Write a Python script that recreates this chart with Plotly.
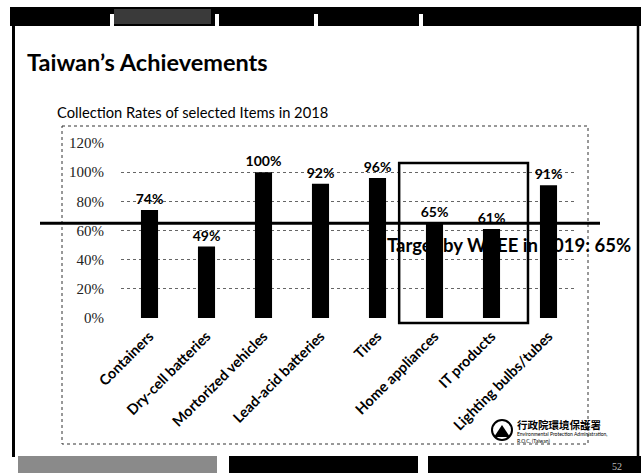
import plotly.graph_objects as go

categories = ["Containers", "Dry-cell batteries", "Mortorized vehicles", "Lead-acid batteries",
              "Tires", "Home appliances", "IT products", "Lighting bulbs/tubes"]
rates = [74, 49, 100, 92, 96, 65, 61, 91]
target = 65
y_ticks = [0, 20, 40, 60, 80, 100, 120]
y_tick_labels = ["0%", "20%", "40%", "60%", "80%", "100%", "120%"]

W_PX, H_PX = 641, 473
L, R, T, B = 121, 577, 143, 318
PW, PH = R - L, B - T


def px(x):
    return (x - L) / PW


def py(y):
    return (B - y) / PH


fig = go.Figure()
fig.add_trace(go.Bar(
    x=categories, y=rates,
    marker=dict(color="#000000", line=dict(width=0)),
    text=[f"{v}%" for v in rates], textposition="outside", constraintext="none",
    textfont=dict(family="Lato", size=14, color="#000000", weight="bold"),
    cliponaxis=False, hoverinfo="skip",
))

shapes = []
# top banner
shapes.append(dict(type="rect", xref="paper", yref="paper", x0=px(10), x1=px(641), y0=py(7), y1=py(26),
                   fillcolor="#000000", line=dict(width=0), layer="below"))
shapes.append(dict(type="rect", xref="paper", yref="paper", x0=px(114), x1=px(211), y0=py(9), y1=py(24),
                   fillcolor="#3a3a3a", line=dict(width=0), layer="below"))
for gx in [110, 215, 314, 419]:
    shapes.append(dict(type="rect", xref="paper", yref="paper", x0=px(gx), x1=px(gx + 4), y0=py(14), y1=py(26),
                       fillcolor="#ffffff", line=dict(width=0), layer="below"))
# slide borders
shapes.append(dict(type="line", xref="paper", yref="paper", x0=px(13.5), x1=px(13.5), y0=py(26), y1=py(457),
                   line=dict(color="#000000", width=3)))
shapes.append(dict(type="line", xref="paper", yref="paper", x0=px(638), x1=px(638), y0=py(26), y1=py(457),
                   line=dict(color="#000000", width=2.5)))
# chart frame
shapes.append(dict(type="rect", xref="paper", yref="paper", x0=px(62), x1=px(588), y0=py(126), y1=py(444),
                   line=dict(color="#333333", width=1, dash="dot"), layer="below"))
# bottom bars
shapes.append(dict(type="rect", xref="paper", yref="paper", x0=px(18), x1=px(217), y0=py(456), y1=py(473),
                   fillcolor="#8a8a8a", line=dict(width=0)))
shapes.append(dict(type="rect", xref="paper", yref="paper", x0=px(229), x1=px(418), y0=py(456), y1=py(473),
                   fillcolor="#000000", line=dict(width=0)))
shapes.append(dict(type="rect", xref="paper", yref="paper", x0=px(428), x1=px(641), y0=py(456), y1=py(473),
                   fillcolor="#000000", line=dict(width=0)))
# target line
shapes.append(dict(type="line", xref="paper", yref="y", x0=px(40), x1=px(600), y0=target, y1=target,
                   line=dict(color="#000000", width=3)))
# highlight box around Home appliances and IT products
i0 = categories.index("Home appliances")
i1 = categories.index("IT products")
shapes.append(dict(type="rect", xref="x", yref="paper", x0=i0 - 0.62, x1=i1 + 0.64,
                   y0=-3.4 / 120, y1=106.3 / 120, line=dict(color="#000000", width=2.5)))
# emblem
shapes.append(dict(type="circle", xref="paper", yref="paper", x0=px(492), x1=px(512), y0=py(440), y1=py(420),
                   line=dict(color="#000000", width=2), fillcolor="#ffffff"))
shapes.append(dict(type="path", xref="paper", yref="paper",
                   path=f"M {px(494)} {py(437)} L {px(502)} {py(425)} L {px(510)} {py(437)} Z",
                   fillcolor="#000000", line=dict(width=0)))

annotations = [
    dict(text="Taiwan’s Achievements", x=px(25), y=py(62), xref="paper", yref="paper",
         xanchor="left", yanchor="middle", showarrow=False,
         font=dict(family="Lato", size=23.5, color="#000000", weight="bold")),
    dict(text="Collection Rates of selected Items in 2018", x=px(55), y=py(112), xref="paper", yref="paper",
         xanchor="left", yanchor="middle", showarrow=False,
         font=dict(family="Lato", size=14.7, color="#000000")),
    dict(text=f"Target by WEEE in 2019: {target}%", x=px(385), y=py(245), xref="paper", yref="paper",
         xanchor="left", yanchor="middle", showarrow=False,
         font=dict(family="Lato", size=18.5, color="#000000", weight="bold")),
    dict(text="行政院環境保護署", x=px(515), y=py(424), xref="paper", yref="paper",
         xanchor="left", yanchor="middle", showarrow=False,
         font=dict(family="Noto Sans CJK TC", size=10.5, color="#000000", weight="bold")),
    dict(text="Environmental Protection Administration,<br>R.O.C. (Taiwan)", x=px(515), y=py(437),
         xref="paper", yref="paper", xanchor="left", yanchor="middle", showarrow=False, align="left",
         font=dict(family="Lato", size=5, color="#000000")),
    dict(text="52", x=px(617), y=py(466), xref="paper", yref="paper",
         xanchor="center", yanchor="middle", showarrow=False,
         font=dict(family="Liberation Serif", size=10, color="#bbbbbb")),
]

fig.update_layout(
    width=W_PX, height=H_PX,
    margin=dict(l=L, r=W_PX - R, t=T, b=H_PX - B, autoexpand=False),
    paper_bgcolor="#ffffff", plot_bgcolor="#ffffff",
    showlegend=False, bargap=0.7,
    shapes=shapes, annotations=annotations,
    xaxis=dict(type="category", tickangle=-45, showgrid=False, showline=False, zeroline=False,
               ticks="", ticklabelstandoff=6,
               tickfont=dict(family="Lato", size=14.5, color="#000000", weight="bold"), automargin=False),
    yaxis=dict(range=[0, 120], tickvals=y_ticks, ticktext=y_tick_labels, showgrid=True,
               gridcolor="#666666", gridwidth=1, griddash="dot", zeroline=False, showline=False,
               ticks="", ticklabelstandoff=16,
               tickfont=dict(family="Liberation Serif", size=15, color="#222222"), automargin=False),
)

fig.write_html("out.html")
